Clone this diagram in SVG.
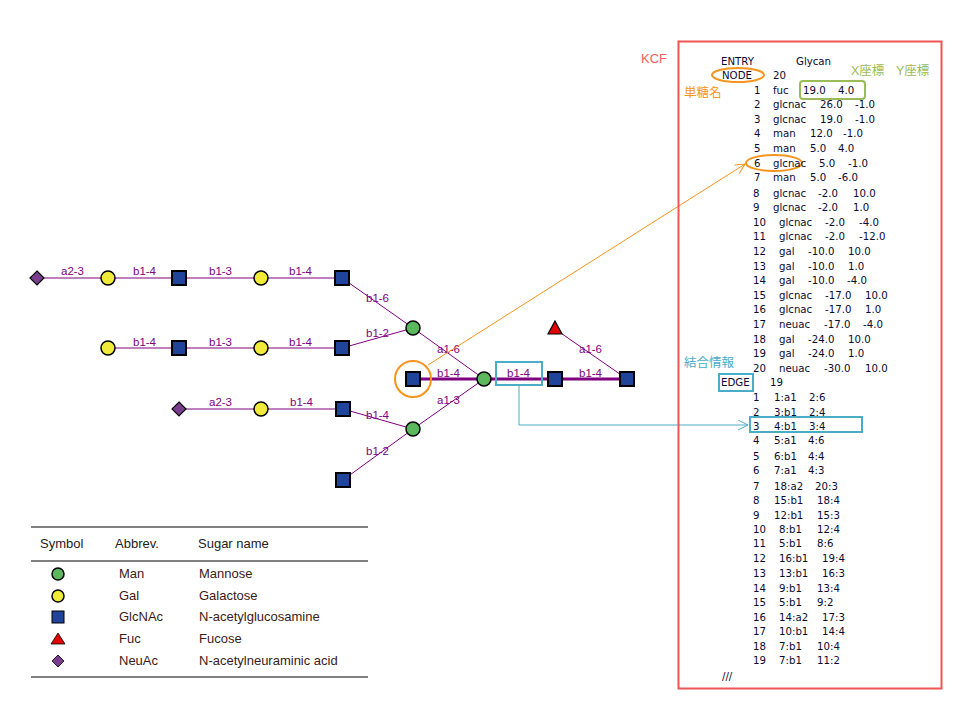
<svg xmlns="http://www.w3.org/2000/svg" width="978" height="713" viewBox="0 0 978 713">
<defs>
<style>
.ln{stroke:#800080;stroke-width:1;fill:none}
.core{stroke:#800080;stroke-width:3;fill:none}
.lb{font-family:"Liberation Sans",Arial,sans-serif;font-size:11.5px;fill:#800080}
.sq{fill:#1f449a;stroke:#000;stroke-width:2}
.gal{fill:#f0ea3a;stroke:#000;stroke-width:1.5}
.man{fill:#5cb85c;stroke:#000;stroke-width:1.5}
.neu{fill:#7a3c8c;stroke:#000;stroke-width:1.2}
.fuc{fill:#e00000;stroke:#000;stroke-width:1.2}
.k{font-family:"DejaVu Sans",Verdana,sans-serif;font-size:10.2px;fill:#0a0a30}
.lg{font-family:"Liberation Sans",Arial,sans-serif;font-size:13px;fill:#3a1a1a}
.lh{font-family:"Liberation Sans",Arial,sans-serif;font-size:13px;fill:#222}
.or{stroke:#f7941d;fill:none;stroke-width:2}
.cy{stroke:#4bacc6;fill:none;stroke-width:2}
</style>
<marker id="ao" markerWidth="12" markerHeight="12" refX="10" refY="5" orient="auto" markerUnits="userSpaceOnUse"><path d="M0,0 L10,5 L0,10" fill="none" stroke="#f7941d" stroke-width="1"/></marker>
<marker id="ac" markerWidth="12" markerHeight="12" refX="10" refY="5" orient="auto" markerUnits="userSpaceOnUse"><path d="M0,0 L10,5 L0,10" fill="none" stroke="#4bacc6" stroke-width="1"/></marker>
</defs>
<rect width="978" height="713" fill="#fff"/>

<g id="connectors">
<line class="ln" x1="37" y1="278" x2="342" y2="278"/>
<line class="ln" x1="108" y1="348" x2="342" y2="348"/>
<line class="ln" x1="179" y1="409" x2="343" y2="409"/>
<line class="ln" x1="342" y1="278" x2="413" y2="328"/>
<line class="ln" x1="342" y1="348" x2="413" y2="328"/>
<line class="ln" x1="343" y1="409" x2="413" y2="429"/>
<line class="ln" x1="343" y1="480" x2="413" y2="429"/>
<line class="ln" x1="413" y1="328" x2="484" y2="379"/>
<line class="ln" x1="413" y1="429" x2="484" y2="379"/>
<line class="ln" x1="555" y1="329" x2="627" y2="379"/>
<line class="core" x1="413" y1="379" x2="627" y2="379"/>
<g class="lb">
<text x="61" y="275">a2-3</text>
<text x="133" y="275">b1-4</text>
<text x="209" y="275">b1-3</text>
<text x="289" y="275">b1-4</text>
<text x="133" y="346">b1-4</text>
<text x="209" y="346">b1-3</text>
<text x="289" y="346">b1-4</text>
<text x="209" y="406">a2-3</text>
<text x="290" y="406">b1-4</text>
<text x="366" y="302">b1-6</text>
<text x="366" y="337">b1-2</text>
<text x="366" y="419">b1-4</text>
<text x="366" y="455">b1-2</text>
<text x="437" y="353">a1-6</text>
<text x="437" y="377">b1-4</text>
<text x="437" y="404">a1-3</text>
<text x="507" y="377">b1-4</text>
<text x="579" y="377">b1-4</text>
<text x="579" y="353">a1-6</text>
</g>
</g>

<g id="glycan-nodes">
<g id="n20"><polygon class="neu" points="37,271 44,278 37,285 30,278"/></g>
<g id="n18"><circle class="gal" cx="108" cy="278" r="7"/></g>
<g id="n15"><rect class="sq" x="172" y="271" width="14" height="14"/></g>
<g id="n12"><circle class="gal" cx="261" cy="278" r="7"/></g>
<g id="n8"><rect class="sq" x="335" y="271" width="14" height="14"/></g>
<g id="n19"><circle class="gal" cx="108" cy="348" r="7"/></g>
<g id="n16"><rect class="sq" x="172" y="341" width="14" height="14"/></g>
<g id="n13"><circle class="gal" cx="261" cy="348" r="7"/></g>
<g id="n9"><rect class="sq" x="335" y="341" width="14" height="14"/></g>
<g id="n17"><polygon class="neu" points="179,402 186,409 179,416 172,409"/></g>
<g id="n14"><circle class="gal" cx="261" cy="409" r="7"/></g>
<g id="n10"><rect class="sq" x="336" y="402" width="14" height="14"/></g>
<g id="n11"><rect class="sq" x="336" y="473" width="14" height="14"/></g>
<g id="n5"><circle class="man" cx="413" cy="328" r="7"/></g>
<g id="n7"><circle class="man" cx="413" cy="429" r="7"/></g>
<g id="n6"><rect class="sq" x="406" y="372" width="14" height="14"/></g>
<g id="n4"><circle class="man" cx="484" cy="379" r="7"/></g>
<g id="n3"><rect class="sq" x="548" y="372" width="14" height="14"/></g>
<g id="n2"><rect class="sq" x="620" y="372" width="14" height="14"/></g>
<g id="n1"><polygon class="fuc" points="555,321 562,334 548,334"/></g>
</g>

<g id="highlights">
<circle class="or" cx="413" cy="379" r="18"/>
<line x1="428" y1="365" x2="745" y2="164" stroke="#f7941d" stroke-width="1" marker-end="url(#ao)"/>
<rect class="cy" x="496" y="362" width="46" height="23"/>
<polyline points="519,385 519,425 748,425" stroke="#4bacc6" stroke-width="1" fill="none" marker-end="url(#ac)"/>
</g>

<g id="legend">
<line x1="31" y1="527" x2="368" y2="527" stroke="#808080" stroke-width="2"/>
<line x1="31" y1="561" x2="368" y2="561" stroke="#808080" stroke-width="2"/>
<line x1="31" y1="677" x2="368" y2="677" stroke="#808080" stroke-width="2"/>
<text class="lh" x="40" y="548">Symbol</text>
<text class="lh" x="115" y="548">Abbrev.</text>
<text class="lh" x="198" y="548">Sugar name</text>
<circle class="man" cx="58" cy="574" r="6"/>
<circle class="gal" cx="58" cy="596" r="6"/>
<rect x="52" y="611" width="12" height="12" fill="#1f449a" stroke="#000" stroke-width="1"/>
<polygon points="58,633 65,644 51,644" fill="#e00000" stroke="#000" stroke-width="0.8"/>
<polygon points="58,655 64,661 58,667 52,661" fill="#7a3c8c" stroke="#000" stroke-width="0.8"/>
<text class="lg" x="119" y="578">Man</text>
<text class="lg" x="119" y="600">Gal</text>
<text class="lg" x="119" y="621">GlcNAc</text>
<text class="lg" x="119" y="643">Fuc</text>
<text class="lg" x="119" y="665">NeuAc</text>
<text class="lg" x="199" y="578">Mannose</text>
<text class="lg" x="199" y="600">Galactose</text>
<text class="lg" x="199" y="621">N-acetylglucosamine</text>
<text class="lg" x="199" y="643">Fucose</text>
<text class="lg" x="199" y="665">N-acetylneuraminic acid</text>
</g>

<g id="kcf">
<rect x="678.5" y="41.5" width="263" height="647" fill="none" stroke="#f05555" stroke-width="2"/>
<text x="641" y="63" font-family="Liberation Sans,Arial,sans-serif" font-size="13" fill="#f06060">KCF</text>
<text x="684" y="97" font-family="Noto Sans CJK JP,sans-serif" font-size="12.5" fill="#f7941d">単糖名</text>
<text x="851" y="75" font-family="Liberation Sans,Noto Sans CJK JP,sans-serif" font-size="12.5" fill="#9bbb59">X座標</text>
<text x="896" y="75" font-family="Liberation Sans,Noto Sans CJK JP,sans-serif" font-size="12.5" fill="#9bbb59">Y座標</text>
<text x="684" y="367" font-family="Noto Sans CJK JP,sans-serif" font-size="12.5" fill="#4bacc6">結合情報</text>
<ellipse class="or" cx="738" cy="75" rx="26" ry="7"/>
<ellipse class="or" cx="774" cy="163" rx="28" ry="8"/>
<rect x="800" y="81" width="65" height="18" rx="3" fill="none" stroke="#9bbb59" stroke-width="2"/>
<rect class="cy" x="719" y="374" width="34" height="17"/>
<rect class="cy" x="750" y="417" width="112" height="15"/>
<g class="k">
<text x="721" y="65">ENTRY</text><text x="796" y="65">Glycan</text>
<text x="722" y="79">NODE</text><text x="773" y="79">20</text>
<text x="754" y="94">1</text><text x="773" y="94">fuc</text><text x="803" y="94">19.0</text><text x="838" y="94">4.0</text>
<text x="754" y="108">2</text><text x="773" y="108">glcnac</text><text x="820" y="108">26.0</text><text x="855" y="108">-1.0</text>
<text x="754" y="123">3</text><text x="773" y="123">glcnac</text><text x="820" y="123">19.0</text><text x="855" y="123">-1.0</text>
<text x="754" y="137">4</text><text x="773" y="137">man</text><text x="810" y="137">12.0</text><text x="843" y="137">-1.0</text>
<text x="754" y="152">5</text><text x="773" y="152">man</text><text x="810" y="152">5.0</text><text x="838" y="152">4.0</text>
<text x="754" y="167">6</text><text x="773" y="167">glcnac</text><text x="819" y="167">5.0</text><text x="848" y="167">-1.0</text>
<text x="754" y="181">7</text><text x="773" y="181">man</text><text x="810" y="181">5.0</text><text x="838" y="181">-6.0</text>
<text x="753" y="197">8</text><text x="773" y="197">glcnac</text><text x="818" y="197">-2.0</text><text x="853" y="197">10.0</text>
<text x="753" y="211">9</text><text x="773" y="211">glcnac</text><text x="818" y="211">-2.0</text><text x="853" y="211">1.0</text>
<text x="753" y="226">10</text><text x="779" y="226">glcnac</text><text x="825" y="226">-2.0</text><text x="859" y="226">-4.0</text>
<text x="753" y="240">11</text><text x="779" y="240">glcnac</text><text x="825" y="240">-2.0</text><text x="859" y="240">-12.0</text>
<text x="753" y="255">12</text><text x="779" y="255">gal</text><text x="808" y="255">-10.0</text><text x="848" y="255">10.0</text>
<text x="753" y="270">13</text><text x="779" y="270">gal</text><text x="808" y="270">-10.0</text><text x="848" y="270">1.0</text>
<text x="753" y="284">14</text><text x="779" y="284">gal</text><text x="808" y="284">-10.0</text><text x="847" y="284">-4.0</text>
<text x="753" y="299">15</text><text x="779" y="299">glcnac</text><text x="825" y="299">-17.0</text><text x="865" y="299">10.0</text>
<text x="753" y="313">16</text><text x="779" y="313">glcnac</text><text x="825" y="313">-17.0</text><text x="865" y="313">1.0</text>
<text x="753" y="328">17</text><text x="779" y="328">neuac</text><text x="824" y="328">-17.0</text><text x="863" y="328">-4.0</text>
<text x="753" y="343">18</text><text x="779" y="343">gal</text><text x="808" y="343">-24.0</text><text x="848" y="343">10.0</text>
<text x="753" y="357">19</text><text x="779" y="357">gal</text><text x="808" y="357">-24.0</text><text x="848" y="357">1.0</text>
<text x="753" y="372">20</text><text x="779" y="372">neuac</text><text x="824" y="372">-30.0</text><text x="865" y="372">10.0</text>
<text x="721" y="386">EDGE</text><text x="770" y="386">19</text>
<text x="753" y="401">1</text><text x="774" y="401">1:a1</text><text x="809" y="401">2:6</text>
<text x="753" y="416">2</text><text x="774" y="416">3:b1</text><text x="809" y="416">2:4</text>
<text x="753" y="430">3</text><text x="774" y="430">4:b1</text><text x="809" y="430">3:4</text>
<text x="753" y="444">4</text><text x="774" y="444">5:a1</text><text x="808" y="444">4:6</text>
<text x="753" y="460">5</text><text x="774" y="460">6:b1</text><text x="808" y="460">4:4</text>
<text x="753" y="474">6</text><text x="774" y="474">7:a1</text><text x="808" y="474">4:3</text>
<text x="753" y="490">7</text><text x="774" y="490">18:a2</text><text x="815" y="490">20:3</text>
<text x="753" y="504">8</text><text x="774" y="504">15:b1</text><text x="817" y="504">18:4</text>
<text x="753" y="519">9</text><text x="774" y="519">12:b1</text><text x="817" y="519">15:3</text>
<text x="753" y="533">10</text><text x="779" y="533">8:b1</text><text x="817" y="533">12:4</text>
<text x="753" y="547">11</text><text x="779" y="547">5:b1</text><text x="817" y="547">8:6</text>
<text x="753" y="562">12</text><text x="779" y="562">16:b1</text><text x="822" y="562">19:4</text>
<text x="753" y="577">13</text><text x="779" y="577">13:b1</text><text x="822" y="577">16:3</text>
<text x="753" y="592">14</text><text x="779" y="592">9:b1</text><text x="817" y="592">13:4</text>
<text x="753" y="606">15</text><text x="779" y="606">5:b1</text><text x="817" y="606">9:2</text>
<text x="753" y="621">16</text><text x="779" y="621">14:a2</text><text x="822" y="621">17:3</text>
<text x="753" y="635">17</text><text x="779" y="635">10:b1</text><text x="822" y="635">14:4</text>
<text x="753" y="650">18</text><text x="779" y="650">7:b1</text><text x="817" y="650">10:4</text>
<text x="753" y="664">19</text><text x="779" y="664">7:b1</text><text x="817" y="664">11:2</text>
<text x="722" y="680">///</text>
</g>
</g>
</svg>
